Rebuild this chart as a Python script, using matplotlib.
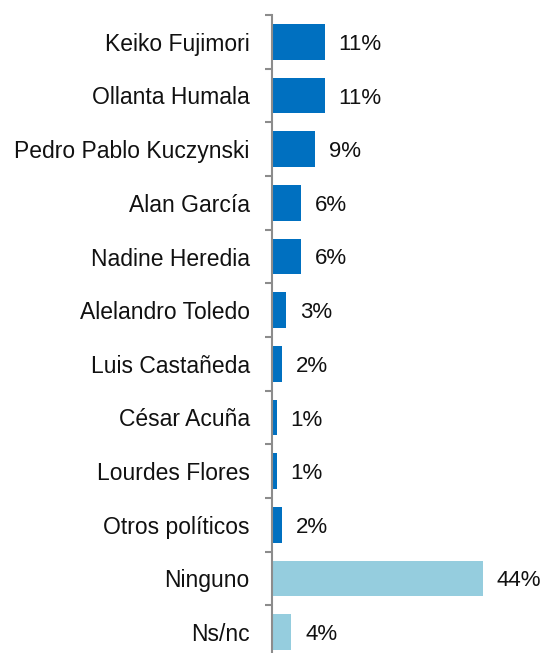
import matplotlib
matplotlib.use("Agg")
import matplotlib.pyplot as plt
import numpy as np

candidates = ["Keiko Fujimori", "Ollanta Humala", "Pedro Pablo Kuczynski", "Alan García",
              "Nadine Heredia", "Alelandro Toledo", "Luis Castañeda", "César Acuña",
              "Lourdes Flores", "Otros políticos", "Ninguno", "Ns/nc"]
pct = [11, 11, 9, 6, 6, 3, 2, 1, 1, 2, 44, 4]
dark_blue = "#0070C0"
light_blue = "#95CDDE"
colors = [dark_blue] * 10 + [light_blue] * 2

plt.rcParams["font.family"] = ["Liberation Sans", "DejaVu Sans"]

fig = plt.figure(figsize=(5.42, 6.53), dpi=100)
# axes placed in pixels: left 272, top 15, bottom a bit below the figure
ax = fig.add_axes([272 / 542, -6 / 653, 268 / 542, 644 / 653])

y = np.arange(len(candidates))
ax.barh(y, pct, height=0.67, color=colors)
ax.set_ylim(len(candidates) - 0.5, -0.5)
ax.set_xlim(0, 268 / 4.795)

# value labels a fixed number of pixels right of each bar
for yi, v in zip(y, pct):
    ax.annotate(f"{v}%", (v, yi), xytext=(10, 0), textcoords="offset points",
                va="center_baseline", ha="left", fontsize=16, color="#111111")

ax.set_yticks(y)
ax.set_yticklabels(candidates, fontsize=16.5, color="#111111")
ax.set_yticks(np.arange(-0.5, len(candidates)), minor=True)
ax.tick_params(axis="y", which="major", length=0, pad=16)
ax.tick_params(axis="y", which="minor", length=5, color="#8c8c8c", direction="out", width=1.5)
ax.set_xticks([])
for s in ["top", "right", "bottom"]:
    ax.spines[s].set_visible(False)
ax.spines["left"].set_color("#8c8c8c")
ax.spines["left"].set_linewidth(1.5)

fig.savefig("out.png", dpi=100)
